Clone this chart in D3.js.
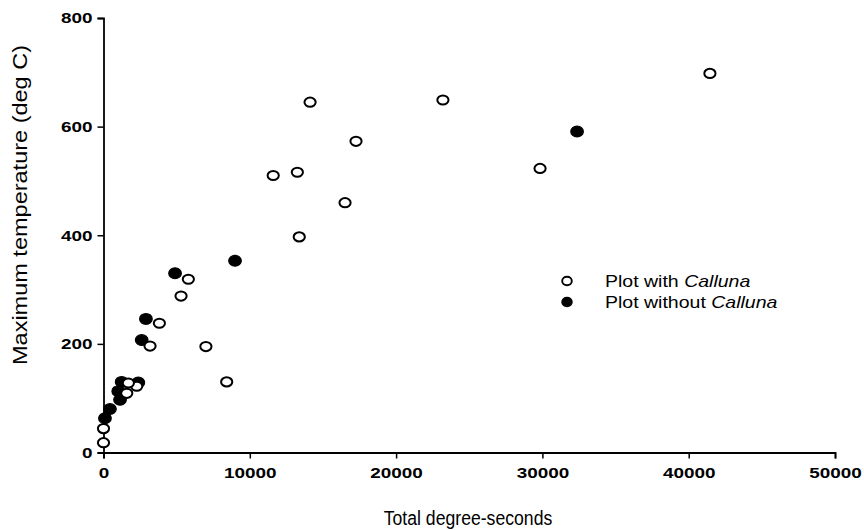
<!DOCTYPE html>
<html lang="en">
<head>
<meta charset="utf-8" />
<script src="https://d3js.org/d3.v7.min.js"></script>
<style type="text/css">
  body { margin: 0; background: #fff; }
  svg text { font-family: "Liberation Sans", Arial, sans-serif; fill: #000; }
</style>
</head>
<body>
<script type="text/javascript">

// plots with Calluna (open circles): total degree-seconds, max temperature
var withX = [41450, 14120, 23200, 17260, 29840, 11600, 13250, 16510, 13380,
             5300, 5800, 3820, 3180, 7000, 8420, 2270, 1700, 1590, 0, 0];
var withY = [698, 645, 649, 573, 523, 510, 516, 460, 397,
             288, 319, 238, 196, 195, 130, 122, 128, 109, 44, 18];

// plots without Calluna (filled circles)
var withoutX = [32370, 8990, 4890, 2900, 2610, 1240, 2380, 1010, 1130, 440, 100];
var withoutY = [591, 353, 330, 246, 207, 130, 129, 113, 97, 80, 63];

var xTicks = [0, 10000, 20000, 30000, 40000, 50000];
var yTicks = [0, 200, 400, 600, 800];

var w = 864, h = 530;
var stretch = 1.22; // the scanned figure is a bit wider than tall

var svg = d3.select("body").append("svg")
    .attr("width", w)
    .attr("height", h);

var x = d3.scaleLinear().domain([0, 50000]).range([103.5, 835]);
var y = d3.scaleLinear().domain([0, 800]).range([452.5, 18]);

// axes
var xAxis = svg.append("g")
    .attr("transform", "translate(0," + y(0) + ")")
    .call(d3.axisBottom(x).tickValues(xTicks).tickSize(6).tickPadding(9).tickFormat(d3.format("d")));
var yAxis = svg.append("g")
    .attr("transform", "translate(" + x(0) + ",0)")
    .call(d3.axisLeft(y).tickValues(yTicks).tickSize(6).tickPadding(3).tickFormat(d3.format("d")));

[xAxis, yAxis].forEach(function(a) {
  a.select(".domain").attr("stroke", "#000").attr("stroke-width", 1.8);
  a.selectAll(".tick line").attr("stroke", "#000").attr("stroke-width", 1.5);
  a.selectAll(".tick text")
    .style("font-family", "'Liberation Sans', Arial, sans-serif")
    .style("font-weight", "bold")
    .style("font-size", "15.5px")
    .attr("fill", "#000")
    .attr("transform", "scale(" + stretch + ",1)");
});

// axis titles
svg.append("text")
    .attr("transform", "translate(468,525) scale(0.84,1)")
    .style("text-anchor", "middle")
    .style("font-size", "21px")
    .text("Total degree-seconds");
svg.append("text")
    .attr("transform", "translate(27,205) rotate(-90) scale(1.12,1)")
    .style("text-anchor", "middle")
    .style("font-size", "21px")
    .text("Maximum temperature (deg C)");

// points
var openPts = withX.map(function(d, i) { return [d, withY[i]]; });
var fillPts = withoutX.map(function(d, i) { return [d, withoutY[i]]; });

svg.append("g").selectAll("ellipse")
    .data(fillPts)
    .enter()
    .append("ellipse")
    .attr("cx", function(d) { return x(d[0]); })
    .attr("cy", function(d) { return y(d[1]); })
    .attr("rx", 6.3)
    .attr("ry", 5.4)
    .attr("fill", "#000")
    .attr("stroke", "#000")
    .attr("stroke-width", 1.2);

svg.append("g").selectAll("ellipse")
    .data(openPts)
    .enter()
    .append("ellipse")
    .attr("cx", function(d) { return x(d[0]); })
    .attr("cy", function(d) { return y(d[1]); })
    .attr("rx", 5.6)
    .attr("ry", 4.6)
    .attr("fill", "#fff")
    .attr("stroke", "#000")
    .attr("stroke-width", 2);

// legend
var legend = [
  { pre: "Plot with ", it: "Calluna", fill: "#fff" },
  { pre: "Plot without ", it: "Calluna", fill: "#000" }
];
var lg = svg.append("g").selectAll("g")
    .data(legend)
    .enter()
    .append("g")
    .attr("transform", function(d, i) { return "translate(567," + (281 + i * 21) + ")"; });
lg.append("ellipse")
    .attr("rx", 4.8)
    .attr("ry", 4.2)
    .attr("fill", function(d) { return d.fill; })
    .attr("stroke", "#000")
    .attr("stroke-width", 1.9);
var lt = lg.append("text")
    .attr("transform", "translate(38,5.5) scale(" + stretch + ",1)")
    .style("font-size", "16px");
lt.append("tspan").text(function(d) { return d.pre; });
lt.append("tspan").style("font-style", "italic").text(function(d) { return d.it; });

</script>
</body>
</html>
